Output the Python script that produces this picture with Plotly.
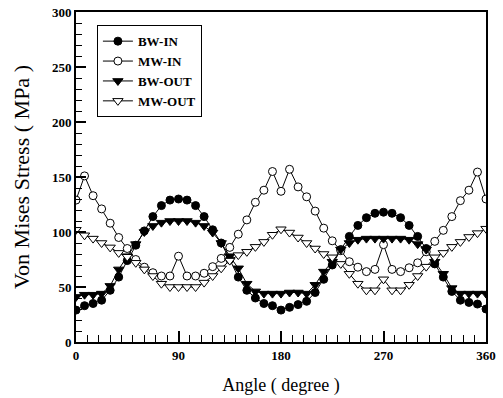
import plotly.graph_objects as go

angle = [0, 7.5, 15, 22.5, 30, 37.5, 45, 52.5, 60, 67.5, 75, 82.5, 90,
         97.5, 105, 112.5, 120, 127.5, 135, 142.5, 150, 157.5, 165, 172.5, 180,
         187.5, 195, 202.5, 210, 217.5, 225, 232.5, 240, 247.5, 255, 262.5, 270,
         277.5, 285, 292.5, 300, 307.5, 315, 322.5, 330, 337.5, 345, 352.5, 360]

bw_in = [29, 33, 35, 38, 47, 59, 74, 88, 101, 114, 124, 129, 130,
         129, 124, 114, 102, 90, 75, 59, 47, 40, 35, 33, 29,
         31.5, 34, 37, 45, 57, 70, 84, 96, 106, 113, 117, 118,
         117, 113, 106, 96, 85, 71, 59, 46, 38, 36, 34.5, 30]

mw_in = [129, 151, 133, 121, 108, 95, 85, 75, 68, 63, 60, 60, 78,
         60, 60, 62.5, 68.5, 76, 86, 98, 111, 127, 138, 155, 137,
         157, 141, 132, 119, 103.5, 92, 83, 73, 68, 64, 66, 88.5,
         66, 64, 67.5, 72, 82, 91.5, 101.5, 114, 128.5, 138, 154.5, 130]

bw_out = [41, 43, 43, 44, 51, 66, 78, 89, 100, 105.5, 108.5, 110, 110,
          110, 108.5, 105.5, 99.5, 90, 78, 67, 53, 46, 44, 44, 44,
          45, 45, 44, 52, 64, 73, 84, 90, 93, 94, 94, 94,
          94, 94, 93, 89, 84, 73, 62, 49, 44, 44, 44, 44]

mw_out = [102, 97, 94, 90, 86, 81, 77.5, 72, 66, 60, 53, 50, 50,
          50, 50, 54, 60, 67, 74, 79, 82, 86.5, 91, 97.5, 102.5,
          99.5, 95, 90, 85, 80, 77, 71, 62, 53, 47, 47, 57,
          47, 47, 52, 60, 68.5, 77, 81, 86.5, 91, 95.5, 99, 103]

x_ticks = [0, 90, 180, 270, 360]
y_ticks = [0, 50, 100, 150, 200, 250, 300]

series = [
    ("BW-IN", bw_in, "circle", "black", 8),
    ("MW-IN", mw_in, "circle", "white", 8),
    ("BW-OUT", bw_out, "triangle-down", "black", 9),
    ("MW-OUT", mw_out, "triangle-down", "white", 9),
]

fig = go.Figure()
for name, vals, sym, fill, sz in series:
    fig.add_trace(go.Scatter(
        x=angle, y=vals, name=name, mode="lines+markers",
        line=dict(color="black", width=1),
        marker=dict(symbol=sym, color=fill, size=sz,
                    line=dict(color="black", width=1)),
    ))

serif = "Liberation Serif, Times New Roman, serif"
fig.update_layout(
    width=503, height=398,
    margin=dict(l=76, r=17, t=12, b=56),
    paper_bgcolor="white", plot_bgcolor="white",
    showlegend=True,
    legend=dict(x=0.051, y=0.96, xanchor="left", yanchor="top",
                bordercolor="black", borderwidth=1, bgcolor="white",
                font=dict(family=serif, size=13, color="black", weight="bold"),
                itemwidth=30, tracegroupgap=0),
    xaxis=dict(range=[0, 360], tickvals=x_ticks, ticktext=[str(v) for v in x_ticks],
               ticks="inside", ticklen=11, tickwidth=1.5, tickcolor="black",
               minor=dict(dtick=10, tick0=0, ticks="inside", ticklen=7, tickcolor="black", tickwidth=1),
               showline=True, linecolor="black", linewidth=2, mirror=True,
               showgrid=False, zeroline=False, automargin=False,
               tickfont=dict(family=serif, size=13, color="black", weight="bold"),
               title=dict(text="Angle ( degree )", standoff=17,
                          font=dict(family=serif, size=18, color="black"))),
    yaxis=dict(range=[0, 300], tickvals=y_ticks, ticktext=[str(v) for v in y_ticks],
               ticks="inside", ticklen=10, tickwidth=1.5, tickcolor="black",
               minor=dict(dtick=10, tick0=0, ticks="inside", ticklen=6, tickcolor="black", tickwidth=1),
               showline=True, linecolor="black", linewidth=2, mirror=True,
               showgrid=False, zeroline=False, automargin=False,
               tickfont=dict(family=serif, size=13, color="black", weight="bold"),
               title=dict(text="Von Mises Stress ( MPa )", standoff=16,
                          font=dict(family=serif, size=22, color="black"))),
)

fig.write_html("out.html")
